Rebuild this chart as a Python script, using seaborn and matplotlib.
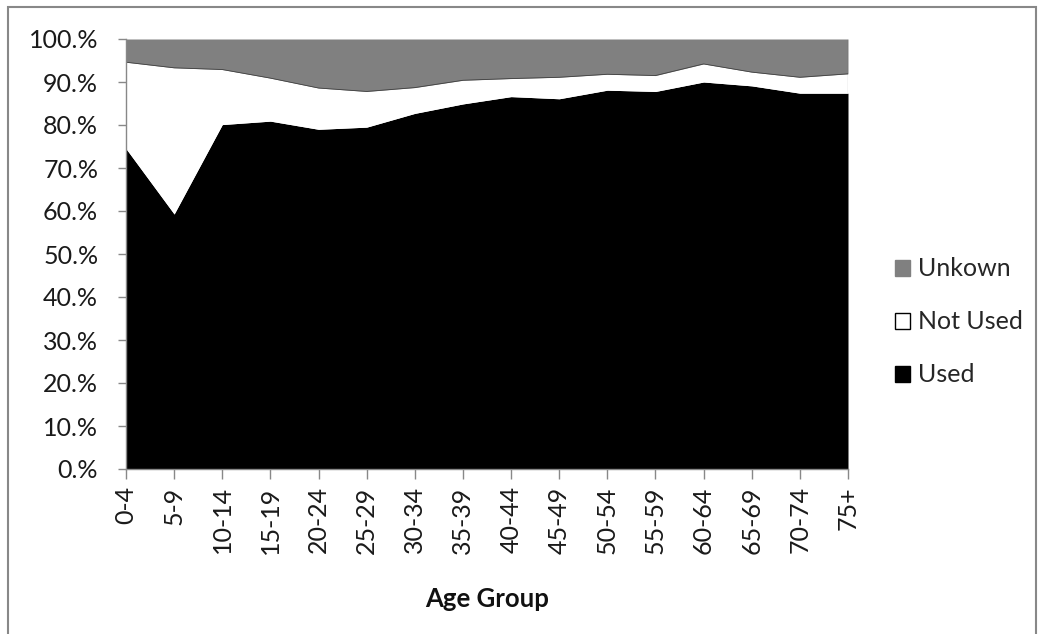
import matplotlib
matplotlib.use("Agg")
import matplotlib.pyplot as plt
import seaborn as sns
import numpy as np
import pandas as pd
from matplotlib.patches import Rectangle, Patch

age_groups = ["0-4", "5-9", "10-14", "15-19", "20-24", "25-29", "30-34", "35-39",
              "40-44", "45-49", "50-54", "55-59", "60-64", "65-69", "70-74", "75+"]
used = [74.5, 59.3, 80.1, 80.9, 79.0, 79.5, 82.7, 84.9,
        86.6, 86.1, 88.1, 87.8, 90.0, 89.1, 87.4, 87.4]
used_plus_not = [94.6, 93.3, 92.9, 90.9, 88.6, 87.8, 88.7, 90.4,
                 90.8, 91.1, 91.8, 91.5, 94.2, 92.3, 91.1, 91.9]
not_used = [t - u for t, u in zip(used_plus_not, used)]
unknown = [100 - t for t in used_plus_not]
y_ticks = list(range(0, 101, 10))
y_tick_labels = [f"{v}.%" for v in y_ticks]

df = pd.DataFrame({"Age Group": age_groups, "Used": used,
                   "Not Used": not_used, "Unkown": unknown})

sns.set_theme(style="white")
plt.rcParams["font.family"] = ["Lato", "DejaVu Sans"]

fig = plt.figure(figsize=(10.44, 6.34), dpi=100)
ax = fig.add_axes([126/1044, 1 - 469/634, (848-126)/1044, (469-39)/634])

x = np.arange(len(age_groups))
ax.stackplot(x, df["Used"], df["Not Used"], df["Unkown"],
             colors=["#000000", "#ffffff", "#808080"], linewidth=0)
top = np.array(used_plus_not)
sns.lineplot(x=x, y=top, ax=ax, color="#404040", linewidth=0.6)
ax.plot([x[-1], x[-1]], [used[-1], 100], color="#404040", linewidth=0.8)

ax.set_xlim(0, len(age_groups) - 1)
ax.set_ylim(0, 100)
ax.set_yticks(y_ticks)
ax.set_yticklabels(y_tick_labels, fontsize=18, color="#1a1a1a")
ax.set_xticks(x)
ax.set_xticklabels(age_groups, rotation=90, fontsize=18, color="#1a1a1a")
ax.tick_params(axis="x", direction="out", length=7.5, width=1,
               color="#888888", bottom=True, pad=5)
ax.tick_params(axis="y", direction="out", length=6, width=1,
               color="#888888", left=True, pad=14)
for s in ["top", "right"]:
    ax.spines[s].set_visible(False)
for s in ["left", "bottom"]:
    ax.spines[s].set_color("#888888")
    ax.spines[s].set_linewidth(1)
ax.set_xlabel("Age Group", fontsize=18.5, fontweight="bold", labelpad=24,
              color="#111111")
ax.set_ylabel("")

handles = [Patch(facecolor="#808080", edgecolor="#808080", label="Unkown"),
           Patch(facecolor="#ffffff", edgecolor="#000000", label="Not Used"),
           Patch(facecolor="#000000", edgecolor="#000000", label="Used")]
fig.legend(handles=handles, loc="center left", bbox_to_anchor=(895/1044, 1 - 322/634),
           frameon=False, fontsize=18, handlelength=0.6, handleheight=0.6,
           handletextpad=0.3, labelspacing=1.2, borderpad=0, borderaxespad=0)

fig.patches.append(Rectangle((8/1044, -0.01), (1036-8)/1044, 1 - 7/634 + 0.01,
                             transform=fig.transFigure, fill=False,
                             edgecolor="#888888", linewidth=1.5))

fig.savefig("out.png", dpi=100)
